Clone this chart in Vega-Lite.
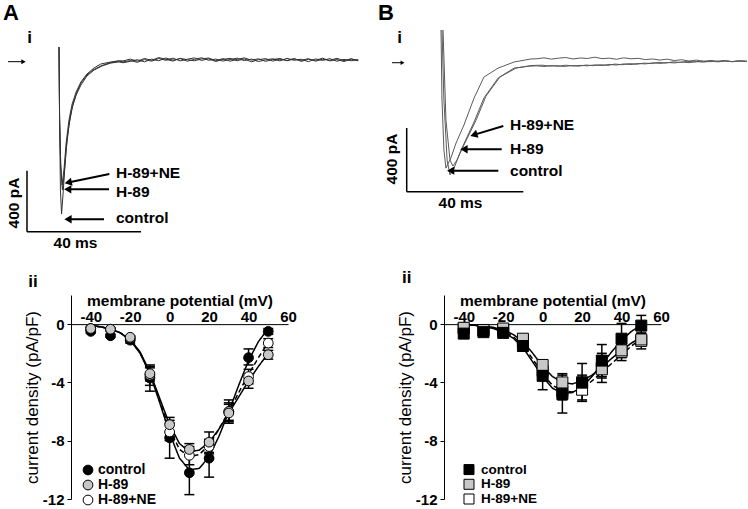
{
"$schema": "https://vega.github.io/schema/vega-lite/v6.json",
"background": "white",
"padding": {"left": 2, "top": 0, "right": 0, "bottom": 0},
"config": {
  "view": {"stroke": null},
  "font": "Liberation Sans",
  "axis": {"grid": false, "domainColor": "black", "tickColor": "black", "labelColor": "black", "titleColor": "black", "domainWidth": 1, "tickWidth": 1, "labelFont": "Liberation Sans", "titleFont": "Liberation Sans"},
  "text": {"font": "Liberation Sans", "fontWeight": "bold", "color": "black"}
},
"datasets": {
  "aiTr": [
    {"s":"control","t":0,"i":85},{"s":"control","t":0.2,"i":-393},{"s":"control","t":0.5,"i":-852},{"s":"control","t":0.9,"i":-1010},{"s":"control","t":1.4,"i":-885},{"s":"control","t":2.1,"i":-688},{"s":"control","t":2.8,"i":-525},{"s":"control","t":3.9,"i":-380},{"s":"control","t":4.9,"i":-289},{"s":"control","t":6.3,"i":-210},{"s":"control","t":7.7,"i":-151},{"s":"control","t":9.8,"i":-98},{"s":"control","t":11.9,"i":-66},{"s":"control","t":14.7,"i":-39},{"s":"control","t":17.5,"i":-20},{"s":"control","t":21.1,"i":-7},
    {"s":"control","t":22.5,"i":-12},{"s":"control","t":25,"i":-4},{"s":"control","t":27.5,"i":-15},{"s":"control","t":30,"i":3},{"s":"control","t":32.5,"i":-8},{"s":"control","t":35,"i":10},{"s":"control","t":37.5,"i":-2},{"s":"control","t":40,"i":12},{"s":"control","t":42.5,"i":-6},{"s":"control","t":45,"i":5},{"s":"control","t":47.5,"i":14},{"s":"control","t":50,"i":-3},{"s":"control","t":52.5,"i":8},{"s":"control","t":55,"i":-10},{"s":"control","t":57.5,"i":4},{"s":"control","t":60,"i":11},{"s":"control","t":62.5,"i":-5},{"s":"control","t":65,"i":7},{"s":"control","t":67.5,"i":-12},{"s":"control","t":70,"i":2},{"s":"control","t":72.5,"i":9},{"s":"control","t":75,"i":-7},{"s":"control","t":77.5,"i":5},{"s":"control","t":80,"i":-3},{"s":"control","t":82.5,"i":10},{"s":"control","t":85,"i":-9},{"s":"control","t":87.5,"i":4},{"s":"control","t":90,"i":-2},{"s":"control","t":92.5,"i":12},{"s":"control","t":95,"i":-6},{"s":"control","t":97.5,"i":3},{"s":"control","t":100,"i":-10},{"s":"control","t":102.5,"i":6},{"s":"control","t":105,"i":-1},
    {"s":"H-89","t":0,"i":85},{"s":"H-89","t":0.2,"i":-380},{"s":"H-89","t":0.6,"i":-700},{"s":"H-89","t":1.2,"i":-852},{"s":"H-89","t":1.8,"i":-754},{"s":"H-89","t":2.5,"i":-590},{"s":"H-89","t":3.5,"i":-426},{"s":"H-89","t":4.6,"i":-315},{"s":"H-89","t":6.0,"i":-230},{"s":"H-89","t":7.7,"i":-164},{"s":"H-89","t":9.8,"i":-105},{"s":"H-89","t":12.3,"i":-66},{"s":"H-89","t":15.1,"i":-39},{"s":"H-89","t":18.2,"i":-20},{"s":"H-89","t":21.0,"i":-13},
    {"s":"H-89","t":22.5,"i":-18},{"s":"H-89","t":25,"i":-9},{"s":"H-89","t":27.5,"i":2},{"s":"H-89","t":30,"i":-12},{"s":"H-89","t":32.5,"i":6},{"s":"H-89","t":35,"i":-5},{"s":"H-89","t":37.5,"i":13},{"s":"H-89","t":40,"i":-1},{"s":"H-89","t":42.5,"i":9},{"s":"H-89","t":45,"i":-8},{"s":"H-89","t":47.5,"i":4},{"s":"H-89","t":50,"i":15},{"s":"H-89","t":52.5,"i":-2},{"s":"H-89","t":55,"i":6},{"s":"H-89","t":57.5,"i":-7},{"s":"H-89","t":60,"i":3},{"s":"H-89","t":62.5,"i":12},{"s":"H-89","t":65,"i":-4},{"s":"H-89","t":67.5,"i":6},{"s":"H-89","t":70,"i":-10},{"s":"H-89","t":72.5,"i":1},{"s":"H-89","t":75,"i":8},{"s":"H-89","t":77.5,"i":-6},{"s":"H-89","t":80,"i":11},{"s":"H-89","t":82.5,"i":-2},{"s":"H-89","t":85,"i":5},{"s":"H-89","t":87.5,"i":-11},{"s":"H-89","t":90,"i":7},{"s":"H-89","t":92.5,"i":-3},{"s":"H-89","t":95,"i":9},{"s":"H-89","t":97.5,"i":-8},{"s":"H-89","t":100,"i":4},{"s":"H-89","t":102.5,"i":-5},{"s":"H-89","t":105,"i":2},
    {"s":"H-89+NE","t":0,"i":85},{"s":"H-89+NE","t":0.2,"i":-360},{"s":"H-89+NE","t":0.6,"i":-680},{"s":"H-89+NE","t":1.1,"i":-820},{"s":"H-89+NE","t":1.8,"i":-708},{"s":"H-89+NE","t":2.5,"i":-544},{"s":"H-89+NE","t":3.5,"i":-393},{"s":"H-89+NE","t":4.6,"i":-289},{"s":"H-89+NE","t":6.0,"i":-210},{"s":"H-89+NE","t":7.7,"i":-144},{"s":"H-89+NE","t":9.8,"i":-92},{"s":"H-89+NE","t":12.3,"i":-52},{"s":"H-89+NE","t":14.7,"i":-26},{"s":"H-89+NE","t":18.2,"i":-13},{"s":"H-89+NE","t":21.0,"i":-5},
    {"s":"H-89+NE","t":22.5,"i":-6},{"s":"H-89+NE","t":25,"i":6},{"s":"H-89+NE","t":27.5,"i":-8},{"s":"H-89+NE","t":30,"i":10},{"s":"H-89+NE","t":32.5,"i":-2},{"s":"H-89+NE","t":35,"i":16},{"s":"H-89+NE","t":37.5,"i":4},{"s":"H-89+NE","t":40,"i":-7},{"s":"H-89+NE","t":42.5,"i":11},{"s":"H-89+NE","t":45,"i":2},{"s":"H-89+NE","t":47.5,"i":-5},{"s":"H-89+NE","t":50,"i":7},{"s":"H-89+NE","t":52.5,"i":13},{"s":"H-89+NE","t":55,"i":-4},{"s":"H-89+NE","t":57.5,"i":9},{"s":"H-89+NE","t":60,"i":-8},{"s":"H-89+NE","t":62.5,"i":4},{"s":"H-89+NE","t":65,"i":14},{"s":"H-89+NE","t":67.5,"i":-1},{"s":"H-89+NE","t":70,"i":8},{"s":"H-89+NE","t":72.5,"i":-9},{"s":"H-89+NE","t":75,"i":3},{"s":"H-89+NE","t":77.5,"i":10},{"s":"H-89+NE","t":80,"i":-5},{"s":"H-89+NE","t":82.5,"i":6},{"s":"H-89+NE","t":85,"i":-3},{"s":"H-89+NE","t":87.5,"i":9},{"s":"H-89+NE","t":90,"i":-8},{"s":"H-89+NE","t":92.5,"i":5},{"s":"H-89+NE","t":95,"i":-2},{"s":"H-89+NE","t":97.5,"i":11},{"s":"H-89+NE","t":100,"i":-4},{"s":"H-89+NE","t":102.5,"i":8},{"s":"H-89+NE","t":105,"i":-6}
  ],
  "biTr": [
    {"s":"H-89+NE","t":0,"i":200},{"s":"H-89+NE","t":0.34,"i":-238},{"s":"H-89+NE","t":1.0,"i":-550},{"s":"H-89+NE","t":1.7,"i":-663},{"s":"H-89+NE","t":3.4,"i":-600},{"s":"H-89+NE","t":5.2,"i":-506},{"s":"H-89+NE","t":7.9,"i":-394},{"s":"H-89+NE","t":11.4,"i":-225},{"s":"H-89+NE","t":14.8,"i":-94},{"s":"H-89+NE","t":19.7,"i":-38},{"s":"H-89+NE","t":25.2,"i":0},{"s":"H-89+NE","t":31,"i":19},
    {"s":"H-89+NE","t":33,"i":20},{"s":"H-89+NE","t":35.5,"i":26},{"s":"H-89+NE","t":38,"i":18},{"s":"H-89+NE","t":40.5,"i":24},{"s":"H-89+NE","t":43,"i":28},{"s":"H-89+NE","t":45.5,"i":19},{"s":"H-89+NE","t":48,"i":25},{"s":"H-89+NE","t":50.5,"i":22},{"s":"H-89+NE","t":53,"i":30},{"s":"H-89+NE","t":55.5,"i":21},{"s":"H-89+NE","t":58,"i":24},{"s":"H-89+NE","t":60.5,"i":17},{"s":"H-89+NE","t":63,"i":26},{"s":"H-89+NE","t":65.5,"i":20},{"s":"H-89+NE","t":68,"i":23},{"s":"H-89+NE","t":70.5,"i":15},{"s":"H-89+NE","t":73,"i":19},{"s":"H-89+NE","t":75.5,"i":12},{"s":"H-89+NE","t":78,"i":18},{"s":"H-89+NE","t":80.5,"i":9},{"s":"H-89+NE","t":83,"i":14},{"s":"H-89+NE","t":85.5,"i":6},{"s":"H-89+NE","t":88,"i":12},{"s":"H-89+NE","t":90.5,"i":4},{"s":"H-89+NE","t":93,"i":10},{"s":"H-89+NE","t":95.5,"i":3},{"s":"H-89+NE","t":98,"i":8},{"s":"H-89+NE","t":100.5,"i":2},{"s":"H-89+NE","t":103,"i":7},{"s":"H-89+NE","t":105.5,"i":4},
    {"s":"control","t":0.34,"i":200},{"s":"control","t":1.0,"i":-238},{"s":"control","t":2.1,"i":-613},{"s":"control","t":3.1,"i":-706},{"s":"control","t":4.5,"i":-663},{"s":"control","t":6.9,"i":-550},{"s":"control","t":11.4,"i":-375},{"s":"control","t":14.8,"i":-225},{"s":"control","t":19.7,"i":-100},{"s":"control","t":25.2,"i":-38},{"s":"control","t":30.5,"i":-26},
    {"s":"control","t":33,"i":-24},{"s":"control","t":35.5,"i":-28},{"s":"control","t":38,"i":-22},{"s":"control","t":40.5,"i":-27},{"s":"control","t":43,"i":-20},{"s":"control","t":45.5,"i":-25},{"s":"control","t":48,"i":-21},{"s":"control","t":50.5,"i":-24},{"s":"control","t":53,"i":-18},{"s":"control","t":55.5,"i":-22},{"s":"control","t":58,"i":-15},{"s":"control","t":60.5,"i":-19},{"s":"control","t":63,"i":-12},{"s":"control","t":65.5,"i":-16},{"s":"control","t":68,"i":-9},{"s":"control","t":70.5,"i":-12},{"s":"control","t":73,"i":-5},{"s":"control","t":75.5,"i":-9},{"s":"control","t":78,"i":-3},{"s":"control","t":80.5,"i":-6},{"s":"control","t":83,"i":0},{"s":"control","t":85.5,"i":-4},{"s":"control","t":88,"i":3},{"s":"control","t":90.5,"i":-1},{"s":"control","t":93,"i":5},{"s":"control","t":95.5,"i":1},{"s":"control","t":98,"i":6},{"s":"control","t":100.5,"i":2},{"s":"control","t":103,"i":7},{"s":"control","t":105.5,"i":5},
    {"s":"H-89","t":0.7,"i":200},{"s":"H-89","t":1.7,"i":-363},{"s":"H-89","t":3.1,"i":-613},{"s":"H-89","t":4.1,"i":-650},{"s":"H-89","t":5.5,"i":-613},{"s":"H-89","t":7.9,"i":-519},{"s":"H-89","t":12.1,"i":-363},{"s":"H-89","t":15.5,"i":-213},{"s":"H-89","t":20.3,"i":-94},{"s":"H-89","t":25.9,"i":-38},{"s":"H-89","t":31,"i":-22},
    {"s":"H-89","t":35,"i":-20},{"s":"H-89","t":37.5,"i":-26},{"s":"H-89","t":40,"i":-23},{"s":"H-89","t":42.5,"i":-28},{"s":"H-89","t":45,"i":-22},{"s":"H-89","t":47.5,"i":-26},{"s":"H-89","t":50,"i":-19},{"s":"H-89","t":52.5,"i":-23},{"s":"H-89","t":55,"i":-17},{"s":"H-89","t":57.5,"i":-21},{"s":"H-89","t":60,"i":-13},{"s":"H-89","t":62.5,"i":-17},{"s":"H-89","t":65,"i":-10},{"s":"H-89","t":67.5,"i":-14},{"s":"H-89","t":70,"i":-7},{"s":"H-89","t":72.5,"i":-10},{"s":"H-89","t":75,"i":-2},{"s":"H-89","t":77.5,"i":-7},{"s":"H-89","t":80,"i":1},{"s":"H-89","t":82.5,"i":-3},{"s":"H-89","t":85,"i":4},{"s":"H-89","t":87.5,"i":0},{"s":"H-89","t":90,"i":6},{"s":"H-89","t":92.5,"i":2},{"s":"H-89","t":95,"i":5},{"s":"H-89","t":97.5,"i":8},{"s":"H-89","t":100,"i":3},{"s":"H-89","t":102.5,"i":6},{"s":"H-89","t":105,"i":4}
  ],
  "aiAnn": [
    {"kind":"bar","t":-11.23,"i":-726,"t2":-11.23,"i2":-1126},
    {"kind":"bar","t":-11.23,"i":-1126,"t2":28.77,"i2":-1126},
    {"kind":"shaft","t":17.65,"i":-747.5,"t2":3.23,"i2":-803},
    {"kind":"shaft","t":17.54,"i":-848,"t2":3.05,"i2":-848},
    {"kind":"shaft","t":15.79,"i":-1044.5,"t2":3.16,"i2":-1044.5},
    {"kind":"base","t":-17.9,"i":-11,"t2":-12.46,"i2":-11},
    {"kind":"headL","t":3.05,"i":-848},
    {"kind":"headL","t":3.16,"i":-1044.5},
    {"kind":"headD","t":3.23,"i":-803},
    {"kind":"headR","t":-12.46,"i":-11},
    {"kind":"lab","t":20,"i":-739,"label":"H-89+NE"},
    {"kind":"lab","t":20,"i":-863.6,"label":"H-89"},
    {"kind":"lab","t":20,"i":-1038,"label":"control"},
    {"kind":"letter","t":-19.65,"i":377,"label":"A"},
    {"kind":"num","t":-10.35,"i":147.5,"label":"i"},
    {"kind":"vert","t":-15.96,"i":-937.7,"label":"400 pA"},
    {"kind":"hor","t":5.79,"i":-1200,"label":"40 ms"}
  ],
  "biAnn": [
    {"kind":"bar","t":-11.83,"i":-412.5,"t2":-11.83,"i2":-810.6},
    {"kind":"bar","t":-11.83,"i":-810.6,"t2":28.38,"i2":-810.6},
    {"kind":"shaft","t":21.48,"i":-400,"t2":11.31,"i2":-455.6},
    {"kind":"shaft","t":20.93,"i":-545.6,"t2":7.93,"i2":-545.6},
    {"kind":"shaft","t":19.76,"i":-679,"t2":3.34,"i2":-679},
    {"kind":"base","t":-16.9,"i":-4.4,"t2":-13.28,"i2":-4.4},
    {"kind":"headL","t":7.93,"i":-545.6},
    {"kind":"headL","t":3.34,"i":-679},
    {"kind":"headD","t":11.31,"i":-455.6},
    {"kind":"headR","t":-13.28,"i":-4.4},
    {"kind":"lab","t":23.79,"i":-394,"label":"H-89+NE"},
    {"kind":"lab","t":23.79,"i":-544,"label":"H-89"},
    {"kind":"lab","t":23.79,"i":-681,"label":"control"},
    {"kind":"letter","t":-21.72,"i":371.5,"label":"B"},
    {"kind":"num","t":-14.31,"i":153,"label":"i"},
    {"kind":"vert","t":-17.0,"i":-606,"label":"400 pA"},
    {"kind":"hor","t":6.72,"i":-881,"label":"40 ms"}
  ],
  "aiiCurve": [
    {"s":"control","v":-42,"y":-0.07},{"s":"control","v":-40,"y":-0.1},{"s":"control","v":-35,"y":-0.18},{"s":"control","v":-30,"y":-0.33},{"s":"control","v":-25,"y":-0.6},{"s":"control","v":-20,"y":-1.1},{"s":"control","v":-15,"y":-2.0},{"s":"control","v":-10,"y":-3.4},{"s":"control","v":-5,"y":-5.4},{"s":"control","v":0,"y":-7.5},{"s":"control","v":5,"y":-9.2},{"s":"control","v":10,"y":-10.0},{"s":"control","v":15,"y":-9.9},{"s":"control","v":20,"y":-9.1},{"s":"control","v":25,"y":-7.7},{"s":"control","v":30,"y":-6.0},{"s":"control","v":35,"y":-4.2},{"s":"control","v":40,"y":-2.5},{"s":"control","v":45,"y":-1.2},{"s":"control","v":50,"y":-0.3},
    {"s":"H-89","v":-42,"y":-0.07},{"s":"H-89","v":-40,"y":-0.1},{"s":"H-89","v":-35,"y":-0.18},{"s":"H-89","v":-30,"y":-0.33},{"s":"H-89","v":-25,"y":-0.6},{"s":"H-89","v":-20,"y":-1.05},{"s":"H-89","v":-15,"y":-1.9},{"s":"H-89","v":-10,"y":-3.3},{"s":"H-89","v":-5,"y":-5.1},{"s":"H-89","v":0,"y":-6.9},{"s":"H-89","v":5,"y":-8.2},{"s":"H-89","v":10,"y":-8.75},{"s":"H-89","v":15,"y":-8.65},{"s":"H-89","v":20,"y":-8.1},{"s":"H-89","v":25,"y":-7.2},{"s":"H-89","v":30,"y":-6.1},{"s":"H-89","v":35,"y":-5.0},{"s":"H-89","v":40,"y":-3.9},{"s":"H-89","v":45,"y":-2.9},{"s":"H-89","v":50,"y":-2.0},
    {"s":"H-89+NE","v":-42,"y":-0.07},{"s":"H-89+NE","v":-40,"y":-0.1},{"s":"H-89+NE","v":-35,"y":-0.18},{"s":"H-89+NE","v":-30,"y":-0.33},{"s":"H-89+NE","v":-25,"y":-0.6},{"s":"H-89+NE","v":-20,"y":-1.08},{"s":"H-89+NE","v":-15,"y":-1.95},{"s":"H-89+NE","v":-10,"y":-3.35},{"s":"H-89+NE","v":-5,"y":-5.3},{"s":"H-89+NE","v":0,"y":-7.2},{"s":"H-89+NE","v":5,"y":-8.6},{"s":"H-89+NE","v":10,"y":-9.1},{"s":"H-89+NE","v":15,"y":-8.95},{"s":"H-89+NE","v":20,"y":-8.3},{"s":"H-89+NE","v":25,"y":-7.2},{"s":"H-89+NE","v":30,"y":-6.0},{"s":"H-89+NE","v":35,"y":-4.7},{"s":"H-89+NE","v":40,"y":-3.45},{"s":"H-89+NE","v":45,"y":-2.3},{"s":"H-89+NE","v":50,"y":-1.25}
  ],
  "aiiPt": [
    {"s":"control","v":-40,"y":-0.5,"lo":-0.6,"hi":-0.4},{"s":"control","v":-30,"y":-0.8,"lo":-0.9,"hi":-0.7},{"s":"control","v":-20,"y":-1.1,"lo":-1.3,"hi":-0.9},{"s":"control","v":-10,"y":-3.7,"lo":-4.6,"hi":-3.0},{"s":"control","v":0,"y":-7.8,"lo":-9.2,"hi":-6.6},{"s":"control","v":10,"y":-10.2,"lo":-11.7,"hi":-8.7},{"s":"control","v":20,"y":-9.2,"lo":-10.5,"hi":-8.0},{"s":"control","v":30,"y":-6.0,"lo":-6.8,"hi":-5.2},{"s":"control","v":40,"y":-2.3,"lo":-2.8,"hi":-1.7},{"s":"control","v":50,"y":-0.5,"lo":-0.7,"hi":-0.3},
    {"s":"H-89+NE","v":-40,"y":-0.3,"lo":-0.4,"hi":-0.2},{"s":"H-89+NE","v":-30,"y":-0.35,"lo":-0.45,"hi":-0.25},{"s":"H-89+NE","v":-20,"y":-0.95,"lo":-1.1,"hi":-0.8},{"s":"H-89+NE","v":-10,"y":-3.5,"lo":-4.2,"hi":-2.9},{"s":"H-89+NE","v":0,"y":-7.4,"lo":-8.0,"hi":-6.8},{"s":"H-89+NE","v":10,"y":-9.0,"lo":-9.65,"hi":-8.4},{"s":"H-89+NE","v":20,"y":-8.4,"lo":-8.9,"hi":-7.9},{"s":"H-89+NE","v":30,"y":-6.0,"lo":-6.6,"hi":-5.4},{"s":"H-89+NE","v":40,"y":-3.6,"lo":-4.1,"hi":-3.1},{"s":"H-89+NE","v":50,"y":-1.3,"lo":-1.6,"hi":-1.0},
    {"s":"H-89","v":-40,"y":-0.3,"lo":-0.4,"hi":-0.2},{"s":"H-89","v":-30,"y":-0.35,"lo":-0.45,"hi":-0.25},{"s":"H-89","v":-20,"y":-0.9,"lo":-1.0,"hi":-0.8},{"s":"H-89","v":-10,"y":-3.4,"lo":-3.9,"hi":-2.8},{"s":"H-89","v":0,"y":-6.9,"lo":-7.4,"hi":-6.4},{"s":"H-89","v":10,"y":-8.6,"lo":-9.0,"hi":-8.2},{"s":"H-89","v":20,"y":-8.1,"lo":-8.8,"hi":-7.4},{"s":"H-89","v":30,"y":-6.1,"lo":-6.7,"hi":-5.5},{"s":"H-89","v":40,"y":-3.9,"lo":-4.4,"hi":-3.4},{"s":"H-89","v":50,"y":-2.1,"lo":-2.4,"hi":-1.8}
  ],
  "aiiLeg": [
    {"s":"control","v":-41.38,"y":-10.01,"label":"control"},
    {"s":"H-89","v":-41.38,"y":-11.04,"label":"H-89"},
    {"s":"H-89+NE","v":-41.38,"y":-12.07,"label":"H-89+NE"}
  ],
  "biiCurve": [
    {"s":"control","v":-42,"y":-0.02},{"s":"control","v":-40,"y":-0.03},{"s":"control","v":-35,"y":-0.07},{"s":"control","v":-30,"y":-0.15},{"s":"control","v":-25,"y":-0.3},{"s":"control","v":-20,"y":-0.55},{"s":"control","v":-15,"y":-0.95},{"s":"control","v":-10,"y":-1.6},{"s":"control","v":-5,"y":-2.6},{"s":"control","v":0,"y":-3.6},{"s":"control","v":5,"y":-4.4},{"s":"control","v":10,"y":-4.75},{"s":"control","v":15,"y":-4.7},{"s":"control","v":20,"y":-4.3},{"s":"control","v":25,"y":-3.6},{"s":"control","v":30,"y":-2.75},{"s":"control","v":35,"y":-1.9},{"s":"control","v":40,"y":-1.1},{"s":"control","v":45,"y":-0.5},{"s":"control","v":50,"y":-0.05},
    {"s":"H-89","v":-42,"y":-0.02},{"s":"H-89","v":-40,"y":-0.03},{"s":"H-89","v":-35,"y":-0.06},{"s":"H-89","v":-30,"y":-0.12},{"s":"H-89","v":-25,"y":-0.22},{"s":"H-89","v":-20,"y":-0.4},{"s":"H-89","v":-15,"y":-0.7},{"s":"H-89","v":-10,"y":-1.2},{"s":"H-89","v":-5,"y":-2.0},{"s":"H-89","v":0,"y":-2.9},{"s":"H-89","v":5,"y":-3.6},{"s":"H-89","v":10,"y":-4.0},{"s":"H-89","v":15,"y":-4.1},{"s":"H-89","v":20,"y":-3.9},{"s":"H-89","v":25,"y":-3.5},{"s":"H-89","v":30,"y":-2.95},{"s":"H-89","v":35,"y":-2.35},{"s":"H-89","v":40,"y":-1.8},{"s":"H-89","v":45,"y":-1.3},{"s":"H-89","v":50,"y":-0.9},
    {"s":"H-89+NE","v":-42,"y":-0.02},{"s":"H-89+NE","v":-40,"y":-0.03},{"s":"H-89+NE","v":-35,"y":-0.07},{"s":"H-89+NE","v":-30,"y":-0.14},{"s":"H-89+NE","v":-25,"y":-0.27},{"s":"H-89+NE","v":-20,"y":-0.47},{"s":"H-89+NE","v":-15,"y":-0.85},{"s":"H-89+NE","v":-10,"y":-1.45},{"s":"H-89+NE","v":-5,"y":-2.4},{"s":"H-89+NE","v":0,"y":-3.4},{"s":"H-89+NE","v":5,"y":-4.2},{"s":"H-89+NE","v":10,"y":-4.6},{"s":"H-89+NE","v":15,"y":-4.65},{"s":"H-89+NE","v":20,"y":-4.4},{"s":"H-89+NE","v":25,"y":-3.9},{"s":"H-89+NE","v":30,"y":-3.3},{"s":"H-89+NE","v":35,"y":-2.7},{"s":"H-89+NE","v":40,"y":-2.1},{"s":"H-89+NE","v":45,"y":-1.5},{"s":"H-89+NE","v":50,"y":-1.0}
  ],
  "biiPt": [
    {"s":"H-89+NE","v":-40,"y":-0.3,"lo":-0.4,"hi":-0.2},{"s":"H-89+NE","v":-30,"y":-0.45,"lo":-0.55,"hi":-0.35},{"s":"H-89+NE","v":-20,"y":-0.4,"lo":-0.5,"hi":-0.3},{"s":"H-89+NE","v":-10,"y":-1.2,"lo":-1.5,"hi":-0.9},{"s":"H-89+NE","v":0,"y":-3.2,"lo":-3.6,"hi":-2.8},{"s":"H-89+NE","v":10,"y":-4.6,"lo":-5.2,"hi":-4.0},{"s":"H-89+NE","v":20,"y":-4.5,"lo":-5.2,"hi":-3.8},{"s":"H-89+NE","v":30,"y":-3.0,"lo":-4.0,"hi":-2.0},{"s":"H-89+NE","v":40,"y":-1.9,"lo":-2.5,"hi":-1.3},{"s":"H-89+NE","v":50,"y":-1.15,"lo":-1.7,"hi":-0.6},
    {"s":"H-89","v":-40,"y":-0.25,"lo":-0.35,"hi":-0.15},{"s":"H-89","v":-30,"y":-0.4,"lo":-0.5,"hi":-0.3},{"s":"H-89","v":-20,"y":-0.3,"lo":-0.4,"hi":-0.2},{"s":"H-89","v":-10,"y":-1.0,"lo":-1.2,"hi":-0.8},{"s":"H-89","v":0,"y":-2.8,"lo":-3.1,"hi":-2.5},{"s":"H-89","v":10,"y":-4.0,"lo":-4.6,"hi":-3.4},{"s":"H-89","v":20,"y":-4.0,"lo":-4.5,"hi":-3.5},{"s":"H-89","v":30,"y":-3.1,"lo":-3.7,"hi":-2.5},{"s":"H-89","v":40,"y":-1.8,"lo":-2.3,"hi":-1.3},{"s":"H-89","v":50,"y":-1.05,"lo":-1.45,"hi":-0.65},
    {"s":"control","v":-40,"y":-0.65,"lo":-0.75,"hi":-0.55},{"s":"control","v":-30,"y":-0.55,"lo":-0.65,"hi":-0.45},{"s":"control","v":-20,"y":-0.6,"lo":-0.7,"hi":-0.5},{"s":"control","v":-10,"y":-1.5,"lo":-1.8,"hi":-1.2},{"s":"control","v":0,"y":-3.55,"lo":-4.5,"hi":-2.6},{"s":"control","v":10,"y":-4.8,"lo":-6.1,"hi":-3.5},{"s":"control","v":20,"y":-4.0,"lo":-5.3,"hi":-2.7},{"s":"control","v":30,"y":-2.5,"lo":-3.6,"hi":-1.4},{"s":"control","v":40,"y":-1.0,"lo":-2.0,"hi":0.05},{"s":"control","v":50,"y":-0.1,"lo":-0.8,"hi":0.6}
  ],
  "biiLeg": [
    {"s":"control","v":-37.33,"y":-9.98,"label":"control"},
    {"s":"H-89","v":-37.33,"y":-10.99,"label":"H-89"},
    {"s":"H-89+NE","v":-37.33,"y":-12.0,"label":"H-89+NE"}
  ]
},
"columns": 2,
"bounds": "flush",
"spacing": {"row": 45, "column": 73},
"resolve": {"scale": {"x": "independent", "y": "independent", "fill": "independent", "strokeDash": "independent"}},
"concat": [
  {
    "width": 300, "height": 250,
    "encoding": {
      "x": {"field": "t", "type": "quantitative", "scale": {"domain": [4.21, 109.47], "nice": false, "zero": false}, "axis": null},
      "y": {"field": "i", "type": "quantitative", "scale": {"domain": [-1245.9, 393.4], "nice": false, "zero": false}, "axis": null}
    },
    "layer": [
      {"data": {"name": "aiTr"}, "mark": {"type": "line", "stroke": "#333333", "strokeWidth": 1, "clip": false}, "encoding": {"detail": {"field": "s"}}},
      {"data": {"name": "aiAnn"}, "transform": [{"filter": "datum.kind == 'bar'"}], "mark": {"type": "rule", "color": "black", "strokeWidth": 1.5, "clip": false}, "encoding": {"x2": {"field": "t2"}, "y2": {"field": "i2"}}},
      {"data": {"name": "aiAnn"}, "transform": [{"filter": "datum.kind == 'shaft'"}], "mark": {"type": "rule", "color": "black", "strokeWidth": 2, "clip": false}, "encoding": {"x2": {"field": "t2"}, "y2": {"field": "i2"}}},
      {"data": {"name": "aiAnn"}, "transform": [{"filter": "datum.kind == 'base'"}], "mark": {"type": "rule", "color": "black", "strokeWidth": 1, "clip": false}, "encoding": {"x2": {"field": "t2"}, "y2": {"field": "i2"}}},
      {"data": {"name": "aiAnn"}, "transform": [{"filter": "datum.kind == 'headL'"}], "mark": {"type": "point", "shape": "triangle-left", "size": 70, "filled": true, "color": "black", "opacity": 1, "clip": false}},
      {"data": {"name": "aiAnn"}, "transform": [{"filter": "datum.kind == 'headD'"}], "mark": {"type": "point", "shape": "triangle-left", "size": 70, "angle": 348.3, "filled": true, "color": "black", "opacity": 1, "clip": false}},
      {"data": {"name": "aiAnn"}, "transform": [{"filter": "datum.kind == 'headR'"}], "mark": {"type": "point", "shape": "triangle-right", "size": 25, "filled": true, "color": "black", "opacity": 1, "clip": false}},
      {"data": {"name": "aiAnn"}, "transform": [{"filter": "datum.kind == 'lab'"}], "mark": {"type": "text", "fontSize": 15.5, "fontWeight": "bold", "align": "left", "baseline": "middle", "clip": false}, "encoding": {"text": {"field": "label"}}},
      {"data": {"name": "aiAnn"}, "transform": [{"filter": "datum.kind == 'letter'"}], "mark": {"type": "text", "fontSize": 22, "fontWeight": "bold", "align": "left", "baseline": "top", "clip": false}, "encoding": {"text": {"field": "label"}}},
      {"data": {"name": "aiAnn"}, "transform": [{"filter": "datum.kind == 'num'"}], "mark": {"type": "text", "fontSize": 17, "fontWeight": "bold", "align": "center", "baseline": "middle", "clip": false}, "encoding": {"text": {"field": "label"}}},
      {"data": {"name": "aiAnn"}, "transform": [{"filter": "datum.kind == 'vert'"}], "mark": {"type": "text", "fontSize": 15.5, "fontWeight": "bold", "align": "center", "baseline": "middle", "angle": 270, "clip": false}, "encoding": {"text": {"field": "label"}}},
      {"data": {"name": "aiAnn"}, "transform": [{"filter": "datum.kind == 'hor'"}], "mark": {"type": "text", "fontSize": 15.5, "fontWeight": "bold", "align": "center", "baseline": "middle", "clip": false}, "encoding": {"text": {"field": "label"}}}
    ]
  },
  {
    "width": 305, "height": 250,
    "encoding": {
      "x": {"field": "t", "type": "quantitative", "scale": {"domain": [1.03, 106.2], "nice": false, "zero": false}, "axis": null},
      "y": {"field": "i", "type": "quantitative", "scale": {"domain": [-1175, 387.5], "nice": false, "zero": false}, "axis": null}
    },
    "layer": [
      {"data": {"name": "biTr"}, "mark": {"type": "line", "stroke": "#5a5a5a", "strokeWidth": 1, "clip": false}, "encoding": {"detail": {"field": "s"}}},
      {"data": {"name": "biAnn"}, "transform": [{"filter": "datum.kind == 'bar'"}], "mark": {"type": "rule", "color": "black", "strokeWidth": 1.5, "clip": false}, "encoding": {"x2": {"field": "t2"}, "y2": {"field": "i2"}}},
      {"data": {"name": "biAnn"}, "transform": [{"filter": "datum.kind == 'shaft'"}], "mark": {"type": "rule", "color": "black", "strokeWidth": 2, "clip": false}, "encoding": {"x2": {"field": "t2"}, "y2": {"field": "i2"}}},
      {"data": {"name": "biAnn"}, "transform": [{"filter": "datum.kind == 'base'"}], "mark": {"type": "rule", "color": "black", "strokeWidth": 1, "clip": false}, "encoding": {"x2": {"field": "t2"}, "y2": {"field": "i2"}}},
      {"data": {"name": "biAnn"}, "transform": [{"filter": "datum.kind == 'headL'"}], "mark": {"type": "point", "shape": "triangle-left", "size": 70, "filled": true, "color": "black", "opacity": 1, "clip": false}},
      {"data": {"name": "biAnn"}, "transform": [{"filter": "datum.kind == 'headD'"}], "mark": {"type": "point", "shape": "triangle-left", "size": 70, "angle": 343.3, "filled": true, "color": "black", "opacity": 1, "clip": false}},
      {"data": {"name": "biAnn"}, "transform": [{"filter": "datum.kind == 'headR'"}], "mark": {"type": "point", "shape": "triangle-right", "size": 20, "filled": true, "color": "black", "opacity": 1, "clip": false}},
      {"data": {"name": "biAnn"}, "transform": [{"filter": "datum.kind == 'lab'"}], "mark": {"type": "text", "fontSize": 15.5, "fontWeight": "bold", "align": "left", "baseline": "middle", "clip": false}, "encoding": {"text": {"field": "label"}}},
      {"data": {"name": "biAnn"}, "transform": [{"filter": "datum.kind == 'letter'"}], "mark": {"type": "text", "fontSize": 22, "fontWeight": "bold", "align": "left", "baseline": "top", "clip": false}, "encoding": {"text": {"field": "label"}}},
      {"data": {"name": "biAnn"}, "transform": [{"filter": "datum.kind == 'num'"}], "mark": {"type": "text", "fontSize": 17, "fontWeight": "bold", "align": "center", "baseline": "middle", "clip": false}, "encoding": {"text": {"field": "label"}}},
      {"data": {"name": "biAnn"}, "transform": [{"filter": "datum.kind == 'vert'"}], "mark": {"type": "text", "fontSize": 15.5, "fontWeight": "bold", "align": "center", "baseline": "middle", "angle": 270, "clip": false}, "encoding": {"text": {"field": "label"}}},
      {"data": {"name": "biAnn"}, "transform": [{"filter": "datum.kind == 'hor'"}], "mark": {"type": "text", "fontSize": 15.5, "fontWeight": "bold", "align": "center", "baseline": "middle", "clip": false}, "encoding": {"text": {"field": "label"}}}
    ]
  },
  {
    "width": 217, "height": 204,
    "encoding": {
      "x": {"field": "v", "type": "quantitative", "scale": {"domain": [-50, 60], "nice": false, "zero": false},
            "axis": {"orient": "top", "offset": -29.14, "values": [-40, -20, 0, 20, 40, 60], "labelExpr": "toString(datum.value)", "title": "membrane potential (mV)", "ticks": false, "labelPadding": 0, "titlePadding": 1, "labelFlush": false, "labelOverlap": false, "labelFontSize": 15, "labelFontWeight": "bold", "titleFontSize": 15.5, "titleFontWeight": "bold"}},
      "y": {"field": "y", "type": "quantitative", "scale": {"domain": [-12, 2], "nice": false, "zero": false},
            "axis": {"values": [0, -4, -8, -12], "labelExpr": "toString(datum.value)", "title": "current density (pA/pF)", "tickSize": 4, "labelPadding": 3, "titlePadding": 1, "labelFontSize": 15, "labelFontWeight": "bold", "titleFontSize": 17, "titleFontWeight": "normal", "labelOverlap": false, "labelFlush": false}}
    },
    "layer": [
      {"data": {"name": "aiiCurve"}, "mark": {"type": "line", "color": "black", "strokeWidth": 1.5}, "encoding": {"strokeDash": {"field": "s", "type": "nominal", "scale": {"domain": ["control", "H-89", "H-89+NE"], "range": [[1, 0], [1, 0], [5, 3]]}, "legend": null}}},
      {"data": {"name": "aiiPt"}, "mark": {"type": "rule", "color": "black", "strokeWidth": 1.5}, "encoding": {"y": {"field": "lo", "type": "quantitative", "title": "current density (pA/pF)"}, "y2": {"field": "hi"}}},
      {"data": {"name": "aiiPt"}, "mark": {"type": "tick", "orient": "horizontal", "color": "black", "size": 10, "thickness": 1.5, "opacity": 1}, "encoding": {"y": {"field": "lo", "type": "quantitative", "title": "current density (pA/pF)"}}},
      {"data": {"name": "aiiPt"}, "mark": {"type": "tick", "orient": "horizontal", "color": "black", "size": 10, "thickness": 1.5, "opacity": 1}, "encoding": {"y": {"field": "hi", "type": "quantitative", "title": "current density (pA/pF)"}}},
      {"data": {"name": "aiiPt"}, "mark": {"type": "point", "shape": "circle", "size": 95, "filled": true, "stroke": "black", "strokeWidth": 1, "opacity": 1},
       "encoding": {"fill": {"field": "s", "type": "nominal", "scale": {"domain": ["control", "H-89", "H-89+NE"], "range": ["black", "#c8c8c8", "white"]}, "legend": null}}},
      {"data": {"name": "aiiLeg"}, "mark": {"type": "point", "shape": "circle", "size": 95, "filled": true, "stroke": "black", "strokeWidth": 1, "opacity": 1, "clip": false},
       "encoding": {"fill": {"field": "s", "type": "nominal", "legend": null}}},
      {"data": {"name": "aiiLeg"}, "mark": {"type": "text", "fontSize": 14, "fontWeight": "bold", "align": "left", "baseline": "middle", "dx": 10, "clip": false}, "encoding": {"text": {"field": "label"}}},
      {"data": {"values": [{"v": -69.26, "y": 2.89, "label": "ii"}]}, "mark": {"type": "text", "fontSize": 17, "fontWeight": "bold", "align": "center", "baseline": "middle", "clip": false}, "encoding": {"text": {"field": "label"}}}
    ]
  },
  {
    "width": 217, "height": 204,
    "encoding": {
      "x": {"field": "v", "type": "quantitative", "scale": {"domain": [-50, 60], "nice": false, "zero": false},
            "axis": {"orient": "top", "offset": -29.14, "values": [-40, -20, 0, 20, 40, 60], "labelExpr": "toString(datum.value)", "title": "membrane potential (mV)", "ticks": false, "labelPadding": 0, "titlePadding": 1, "labelFlush": false, "labelOverlap": false, "labelFontSize": 15, "labelFontWeight": "bold", "titleFontSize": 15.5, "titleFontWeight": "bold"}},
      "y": {"field": "y", "type": "quantitative", "scale": {"domain": [-12, 2], "nice": false, "zero": false},
            "axis": {"values": [0, -4, -8, -12], "labelExpr": "toString(datum.value)", "title": "current density (pA/pF)", "tickSize": 4, "labelPadding": 3, "titlePadding": 1, "labelFontSize": 15, "labelFontWeight": "bold", "titleFontSize": 17, "titleFontWeight": "normal", "labelOverlap": false, "labelFlush": false}}
    },
    "layer": [
      {"data": {"name": "biiCurve"}, "mark": {"type": "line", "color": "black", "strokeWidth": 1.5}, "encoding": {"strokeDash": {"field": "s", "type": "nominal", "scale": {"domain": ["control", "H-89", "H-89+NE"], "range": [[1, 0], [1, 0], [5, 3]]}, "legend": null}}},
      {"data": {"name": "biiPt"}, "mark": {"type": "rule", "color": "black", "strokeWidth": 1.5}, "encoding": {"y": {"field": "lo", "type": "quantitative", "title": "current density (pA/pF)"}, "y2": {"field": "hi"}}},
      {"data": {"name": "biiPt"}, "mark": {"type": "tick", "orient": "horizontal", "color": "black", "size": 10, "thickness": 1.5, "opacity": 1}, "encoding": {"y": {"field": "lo", "type": "quantitative", "title": "current density (pA/pF)"}}},
      {"data": {"name": "biiPt"}, "mark": {"type": "tick", "orient": "horizontal", "color": "black", "size": 10, "thickness": 1.5, "opacity": 1}, "encoding": {"y": {"field": "hi", "type": "quantitative", "title": "current density (pA/pF)"}}},
      {"data": {"name": "biiPt"}, "mark": {"type": "point", "shape": "square", "size": 121, "filled": true, "stroke": "black", "strokeWidth": 1, "opacity": 1},
       "encoding": {"fill": {"field": "s", "type": "nominal", "scale": {"domain": ["control", "H-89", "H-89+NE"], "range": ["black", "#c8c8c8", "white"]}, "legend": null}}},
      {"data": {"name": "biiLeg"}, "mark": {"type": "point", "shape": "square", "size": 100, "filled": true, "stroke": "black", "strokeWidth": 1, "opacity": 1, "clip": false},
       "encoding": {"fill": {"field": "s", "type": "nominal", "legend": null}}},
      {"data": {"name": "biiLeg"}, "mark": {"type": "text", "fontSize": 13.5, "fontWeight": "bold", "align": "left", "baseline": "middle", "dx": 12, "clip": false}, "encoding": {"text": {"field": "label"}}},
      {"data": {"values": [{"v": -68.9, "y": 3.17, "label": "ii"}]}, "mark": {"type": "text", "fontSize": 17, "fontWeight": "bold", "align": "center", "baseline": "middle", "clip": false}, "encoding": {"text": {"field": "label"}}}
    ]
  }
]
}
